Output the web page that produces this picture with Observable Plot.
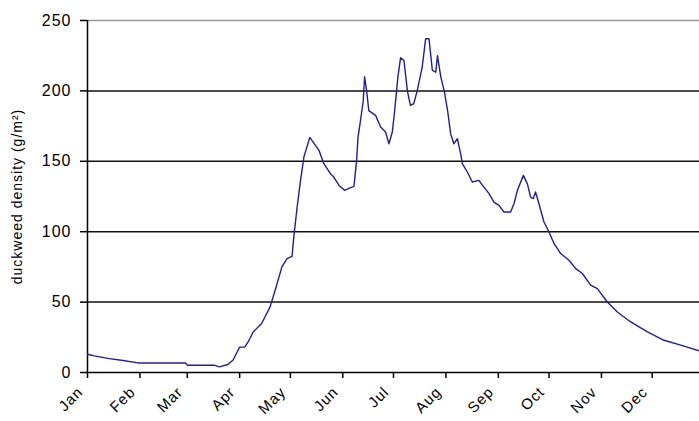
<!DOCTYPE html>
<html>
<head>
<meta charset="utf-8">
<script src="https://cdn.jsdelivr.net/npm/d3@7"></script>
<script src="https://cdn.jsdelivr.net/npm/@observablehq/plot@0.6"></script>
<style>
  html, body { margin: 0; padding: 0; background: #fff; }
  #chart svg { font-family: "Liberation Sans", Arial, sans-serif; }
  #chart svg text { letter-spacing: 1px; }
</style>
</head>
<body>
<div id="chart"></div>
<script>
// Day of year (0 = 1 Jan) and duckweed density (g/m²)
const days = [0, 4, 12, 20, 30, 58, 59, 75, 78, 83, 86, 90, 93, 95, 98, 103, 108, 111, 115, 118, 121, 122, 124, 126, 128, 131.5, 136.9, 139.8, 143.8, 145.7, 148.7, 152, 155, 157.6, 159.2, 160, 161.5, 163.1, 163.9, 165.1, 166.4, 170.4, 173.4, 176.3, 178.3, 180.3, 181.7, 183.6, 185.2, 187.2, 189.2, 191, 193, 195, 198, 200, 202, 204, 206, 207, 209, 211, 213, 214.8, 216.7, 218.8, 220.7, 221.7, 224.7, 227.6, 231.5, 234.5, 237.5, 240.4, 243.4, 246.3, 250.3, 252.3, 254.3, 257.8, 260.2, 262.1, 263.7, 265, 267, 270, 273, 276, 279.9, 284.8, 288.8, 292.7, 297.6, 301.6, 307.5, 313.4, 321.3, 331.2, 341, 350.9, 362];
const density = [13, 11.8, 10, 8.7, 6.8, 6.8, 5.2, 5.2, 4, 5.7, 8.7, 18, 18, 21.7, 28.8, 34.8, 46.6, 58.4, 75, 80.9, 82.5, 96, 117.5, 136.5, 153, 167, 157.8, 148.3, 141, 138.8, 133, 129.4, 131, 132.2, 150.7, 167, 179, 193, 210, 200, 186, 182.6, 174.3, 170.8, 162.5, 170.8, 186, 210, 223.6, 221.6, 200, 189.7, 191, 200, 217, 237, 237, 214.5, 213.3, 225, 209.8, 200, 186, 169.6, 162.5, 166, 155.4, 148.3, 142.4, 135.3, 136.5, 131.7, 127, 121, 118.7, 114, 114, 120, 129.4, 140, 134, 124.6, 123.5, 128.2, 120, 106.9, 99.8, 91.5, 84.5, 79.7, 73.8, 70.3, 62, 59.6, 50.1, 43, 35.9, 28.8, 22.9, 19.4, 15.3];

const monthStarts = [0, 31, 59, 90, 120, 151, 181, 212, 243, 273, 304, 334];
const monthLabels = ["Jan", "Feb", "Mar", "Apr", "May", "Jun", "Jul", "Aug", "Sep", "Oct", "Nov", "Dec"];
const yTicks = [0, 50, 100, 150, 200, 250];
const yLabel = "duckweed density (g/m²)";

const data = days.map((d, i) => ({day: d, value: density[i]}));

const chart = Plot.plot({
  width: 699,
  height: 421,
  marginLeft: 87,
  marginRight: 0,
  marginTop: 20,
  marginBottom: 49,
  x: {type: "linear", domain: [0, 362]},
  y: {domain: [0, 250]},
  marks: [
    Plot.ruleY([50, 100, 150, 200], {stroke: "#111", strokeWidth: 1.5}),
    Plot.ruleY([250], {stroke: "#999", strokeWidth: 1.5}),
    Plot.axisY({
      ticks: yTicks,
      tickSize: 7,
      tickPadding: 9,
      fontSize: 16,
      stroke: "#000",
      fill: "#000",
      strokeWidth: 1.5,
      label: null
    }),
    // tick marks only
    Plot.axisX({
      ticks: monthStarts,
      tickFormat: () => "",
      tickSize: 6,
      stroke: "#000",
      strokeWidth: 1.5,
      label: null
    }),
    // rotated month labels only
    Plot.axisX({
      ticks: monthStarts,
      tickFormat: d => monthLabels[monthStarts.indexOf(d)],
      tickRotate: -45,
      tickSize: 0,
      tickPadding: 12,
      fontSize: 15,
      dx: -7,
      dy: 5,
      fill: "#000",
      label: null
    }),
    Plot.ruleY([0], {stroke: "#000", strokeWidth: 1.5}),
    Plot.ruleX([0], {stroke: "#000", strokeWidth: 1.5}),
    Plot.line(data, {x: "day", y: "value", stroke: "#1f1f9c", strokeWidth: 1.4}),
    Plot.text([yLabel], {
      frameAnchor: "left",
      dx: -70,
      rotate: -90,
      textAnchor: "middle",
      lineAnchor: "middle",
      fontSize: 14,
      fill: "#000"
    })
  ]
});

d3.select(chart).selectAll("text")
  .filter(function () { return this.textContent === yLabel; })
  .attr("letter-spacing", "1.6px");

document.getElementById("chart").appendChild(chart);
</script>
</body>
</html>
